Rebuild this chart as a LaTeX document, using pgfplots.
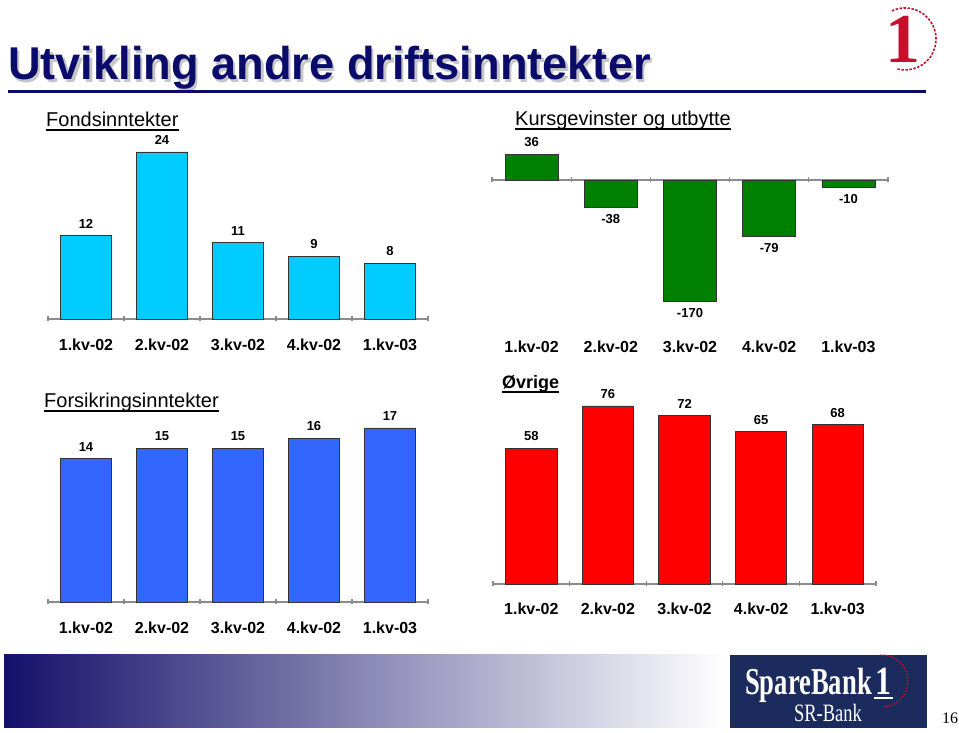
\documentclass[border=0pt]{standalone}
\usepackage{pgfplots}
\usepackage{pgfplotstable}
\pgfplotsset{compat=1.18}
\usepackage{fontspec}
\setmainfont{Liberation Sans}
\newfontfamily\serif{Liberation Serif}
\definecolor{navy}{HTML}{0B0B6B}
\definecolor{cyanbar}{HTML}{00CCFF}
\definecolor{greenbar}{HTML}{008000}
\definecolor{bluebar}{HTML}{3366FF}
\definecolor{redbar}{HTML}{FF0000}
\definecolor{axgray}{HTML}{8C8C8C}
\definecolor{logoblue}{HTML}{1B2B5E}
\definecolor{logored}{HTML}{C8102E}
\definecolor{gradL}{HTML}{15106A}
\definecolor{gradM}{HTML}{A8A9B6}

\pgfplotstableread{
x y
0 12
1 24
2 11
3 9
4 8
}\fonds
\pgfplotstableread{
x y
0 36
1 -38
2 -170
3 -79
4 -10
}\kurs
\pgfplotstableread{
x y
0 14
1 15
2 15
3 16
4 17
}\forsikring
\pgfplotstableread{
x y
0 58
1 76
2 72
3 65
4 68
}\ovrige

\pgfplotsset{
  minichart/.style={
    scale only axis, anchor=south west, clip=false,
    xmin=-0.5, xmax=4.5, enlargelimits=false,
    axis y line=none,
    xtick={0,1,2,3,4},
    xticklabels={1.kv-02,2.kv-02,3.kv-02,4.kv-02,1.kv-03},
    major x tick style={draw=none},
    minor xtick={-0.5,0.5,1.5,2.5,3.5,4.5},
    minor x tick style={draw=axgray, line width=1.2pt},
    minor tick length=5pt,
    tick align=outside,
    xticklabel style={font=\fontsize{16}{19}\selectfont\bfseries},
    ybar, bar width=0.67,
    /pgf/number format/assume math mode=true,
    nodes near coords,
    every node near coord/.append style={font=\fontsize{13}{15}\selectfont\bfseries, text=black, inner sep=7pt},
  },
  noarrow/.style={
    axis line style={-},
    every outer x axis line/.append style={-},
    every inner x axis line/.append style={-},
    x axis line style={draw=axgray, line width=1.5pt, -},
  },
  barstyle/.style={draw=black!80, line width=0.7pt, fill=#1},
}

\begin{document}
\begin{tikzpicture}[x=1pt,y=1pt]
\fill[white] (0,0) rectangle (959,733);
\path[use as bounding box] (0,0) rectangle (959,733);

% main title
\node[anchor=base west, inner sep=0, text=gray!45, font=\fontsize{46}{50}\selectfont\bfseries, xscale=0.982] at (10.5,650.5) {Utvikling andre driftsinntekter};
\node[anchor=base west, inner sep=0, text=navy, font=\fontsize{46}{50}\selectfont\bfseries, xscale=0.982] at (8,653) {Utvikling andre driftsinntekter};
\fill[navy] (8,640) rectangle (926,643);

% top-right logo
\node[text=logored, font=\serif\bfseries\fontsize{70}{70}\selectfont] at (903,694) {1};
\draw[logored, line width=1.6pt, dash pattern=on 2.5pt off 1.5pt] (905,694) ++(115:31) arc (115:-105:31);

% chart 1
\begin{axis}[minichart, at={(48pt,414pt)}, width=380pt, height=167pt, ymin=0, ymax=24,
  axis x line=bottom, noarrow, xticklabel style={yshift=-14pt}]
\addplot[barstyle=cyanbar] table {\fonds};
\end{axis}
\node[anchor=base west, inner sep=0, font=\fontsize{20}{22}\selectfont] (t1) at (46,606) {Fondsinntekter};
\draw[line width=1.3pt] ([yshift=-3pt]t1.base west) -- ([yshift=-3pt]t1.base east);

% chart 2
\begin{axis}[minichart, at={(492pt,431.5pt)}, width=396pt, height=147.3pt, ymin=-170, ymax=36,
  axis x line=middle, noarrow, xticklabel style={yshift=-155pt}]
\addplot[barstyle=greenbar] table {\kurs};
\end{axis}
\node[anchor=base west, inner sep=0, font=\fontsize{20}{22}\selectfont] (t2) at (515,607) {Kursgevinster og utbytte};
\draw[line width=1.3pt] ([yshift=-3pt]t2.base west) -- ([yshift=-3pt]t2.base east);

% chart 3
\begin{axis}[minichart, at={(48pt,131pt)}, width=380pt, height=174pt, ymin=0, ymax=17,
  axis x line=bottom, noarrow, xticklabel style={yshift=-14pt}]
\addplot[barstyle=bluebar] table {\forsikring};
\end{axis}
\node[anchor=base west, inner sep=0, font=\fontsize{20}{22}\selectfont] (t3) at (44,325) {Forsikringsinntekter};
\draw[line width=1.3pt] ([yshift=-3pt]t3.base west) -- ([yshift=-3pt]t3.base east);

% chart 4
\begin{axis}[minichart, at={(493pt,149pt)}, width=383pt, height=178pt, ymin=0, ymax=76,
  axis x line=bottom, noarrow, xticklabel style={yshift=-13pt}]
\addplot[barstyle=redbar] table {\ovrige};
\end{axis}
\node[anchor=base west, inner sep=0, font=\fontsize{18}{20}\selectfont\bfseries] (t4) at (502,344) {Øvrige};
\draw[line width=1.3pt] ([yshift=-3pt]t4.base west) -- ([yshift=-3pt]t4.base east);

% bottom gradient
\shade[left color=gradL, middle color=gradM, right color=white] (4,5) rectangle (725,78);

% SpareBank logo
\fill[logoblue] (730,5) rectangle (927,78);
\node[anchor=base west, inner sep=0, text=white, font=\serif\bfseries\fontsize{38}{38}\selectfont, xscale=0.7] at (745,38) {SpareBank};
\node[anchor=base west, inner sep=0, text=white, font=\serif\bfseries\fontsize{40}{40}\selectfont, xscale=0.8] at (875,38) {1};
\draw[white, line width=1.5pt] (874,35) -- (893,35);
\draw[logored, line width=1.2pt, dash pattern=on 2pt off 1.5pt] (882,52) ++(95:26) arc (95:-85:26);
\node[anchor=base, inner sep=0, text=white, font=\serif\fontsize{25}{25}\selectfont, xscale=0.74] at (828,11) {SR-Bank};

% page number
\node[anchor=base, inner sep=0, font=\serif\fontsize{16}{16}\selectfont] at (950,9) {16};
\end{tikzpicture}
\end{document}
